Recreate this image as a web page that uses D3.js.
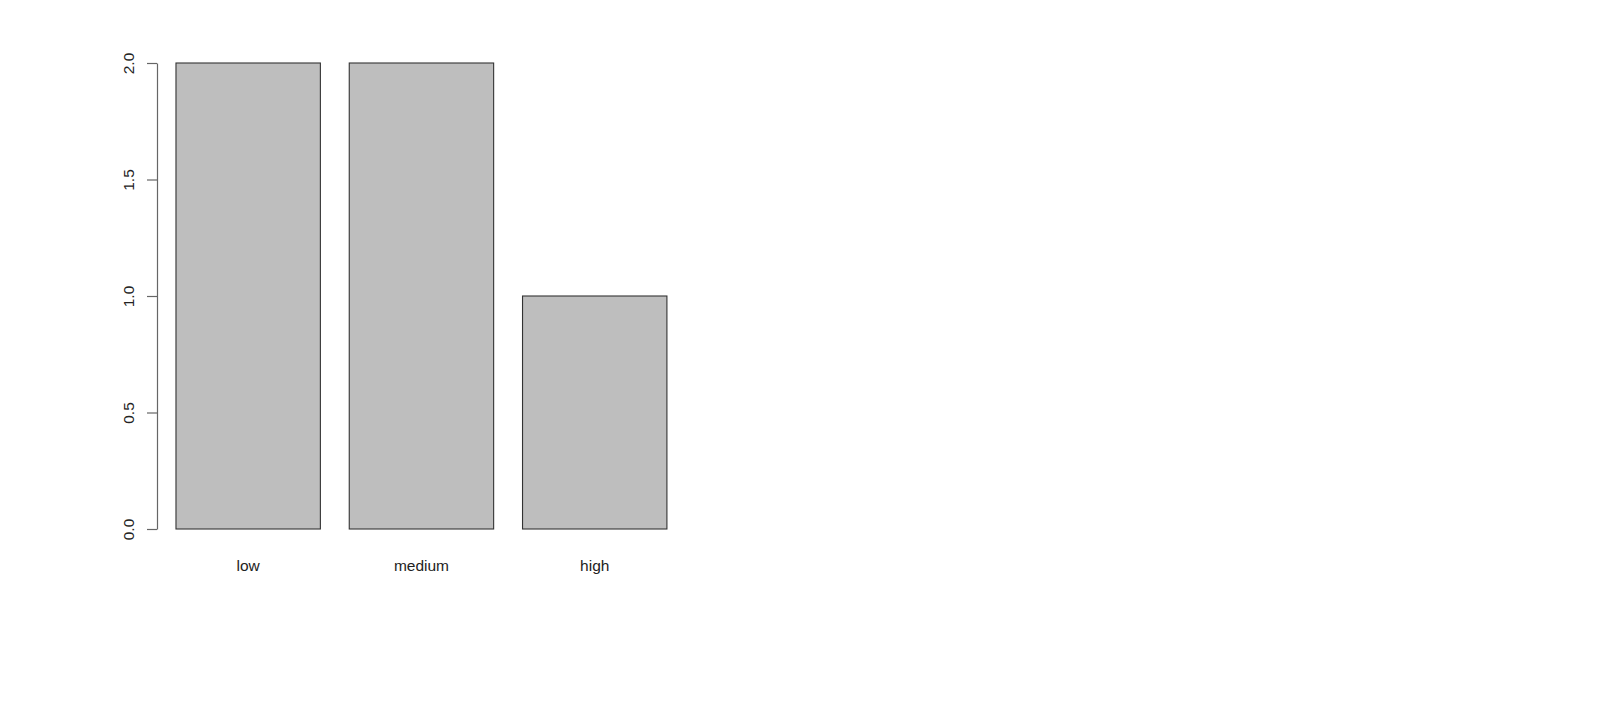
<!DOCTYPE html>
<html>
<head>
<meta charset="utf-8">
<script src="https://cdn.jsdelivr.net/npm/d3@7/dist/d3.min.js"></script>
<style>
  html, body { margin: 0; padding: 0; background: #ffffff; }
  svg { display: block; }
  text { font-family: "Liberation Sans", Arial, Helvetica, sans-serif; fill: #222; }
</style>
</head>
<body>
<svg id="chart" width="1600" height="710"></svg>
<script>
const categories = ["low", "medium", "high"];
const counts = [2, 2, 1];
const yTicks = [0, 0.5, 1, 1.5, 2];
const yTickLabels = ["0.0", "0.5", "1.0", "1.5", "2.0"];

const svg = d3.select("#chart");
const W = 1600, H = 710;
svg.append("rect").attr("width", W).attr("height", H).attr("fill", "#fff");

const y = d3.scaleLinear().domain([0, 2]).range([529, 63]);
const x = d3.scaleBand()
  .domain(categories)
  .range([147.1, 695.8])
  .paddingInner(1 / 6)
  .paddingOuter(1 / 6);

// bars
svg.append("g").selectAll("rect")
  .data(categories)
  .join("rect")
  .attr("x", d => x(d))
  .attr("width", x.bandwidth())
  .attr("y", (d, i) => y(counts[i]))
  .attr("height", (d, i) => y(0) - y(counts[i]))
  .attr("fill", "#bebebe")
  .attr("stroke", "#333")
  .attr("stroke-width", 1.1);

// category labels
svg.append("g").selectAll("text")
  .data(categories)
  .join("text")
  .attr("x", d => x(d) + x.bandwidth() / 2)
  .attr("y", 571)
  .attr("text-anchor", "middle")
  .attr("font-size", "15.5px")
  .text(d => d);

// y axis
const axisX = 157;
const yAxis = d3.axisLeft(y)
  .tickValues(yTicks)
  .tickFormat((d, i) => yTickLabels[i])
  .tickSize(10)
  .tickSizeOuter(0);
const gy = svg.append("g").attr("transform", `translate(${axisX},0)`).call(yAxis);
gy.select(".domain").attr("stroke", "#666").attr("stroke-width", 1.2);
gy.selectAll(".tick line").attr("stroke", "#666").attr("stroke-width", 1.2);
gy.selectAll(".tick text")
  .attr("font-family", "Liberation Sans, Arial, sans-serif")
  .attr("font-size", "15.5px")
  .attr("fill", "#222")
  .attr("text-anchor", "middle")
  .attr("dy", null)
  .attr("x", null)
  .attr("transform", "translate(-23,0) rotate(-90)");
</script>
</body>
</html>
